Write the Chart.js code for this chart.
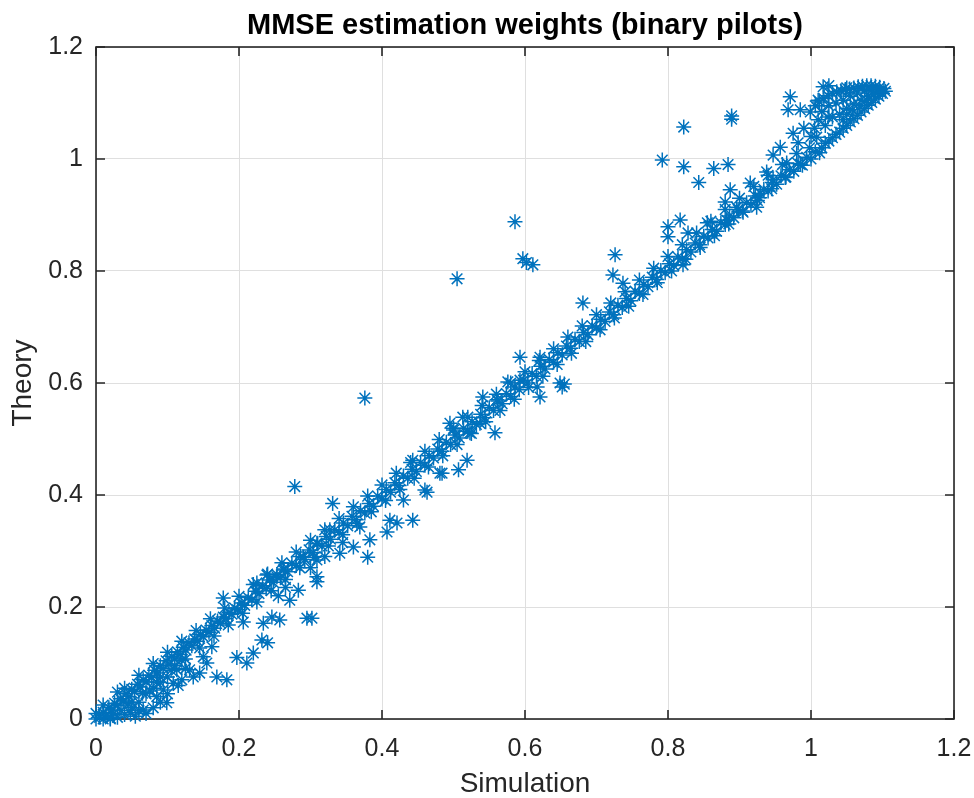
<!DOCTYPE html>
<html>
<head>
<meta charset="utf-8">
<title>MMSE estimation weights (binary pilots)</title>
<script src="https://cdn.jsdelivr.net/npm/chart.js@4/dist/chart.umd.min.js"></script>
<style>
  html, body { margin: 0; padding: 0; background: #ffffff; }
  canvas { display: block; }
</style>
</head>
<body>
<canvas id="mmse-chart" width="974" height="798"></canvas>
<script>
// ============================================
// DATA
// ============================================
const xTicks = [0, 0.2, 0.4, 0.6, 0.8, 1, 1.2];
const yTicks = [0, 0.2, 0.4, 0.6, 0.8, 1, 1.2];

// main diagonal band
const bandSim = [
  0.005, 0.010, 0.014, 0.018, 0.022, 0.026, 0.030, 0.034, 0.038, 0.042,
  0.046, 0.050, 0.054, 0.058, 0.062, 0.066, 0.070, 0.074, 0.078, 0.082,
  0.086, 0.090, 0.094, 0.098, 0.102, 0.106, 0.110, 0.114, 0.118, 0.122,
  0.126, 0.130, 0.134, 0.138, 0.142, 0.146, 0.150, 0.154, 0.158, 0.162,
  0.166, 0.170, 0.174, 0.178, 0.182, 0.186, 0.190, 0.194, 0.198, 0.203,
  0.208, 0.213, 0.218, 0.223, 0.228, 0.233, 0.238, 0.243, 0.248, 0.253,
  0.258, 0.263, 0.268, 0.274, 0.280, 0.286, 0.292, 0.298, 0.304, 0.310,
  0.316, 0.322, 0.328, 0.334, 0.340, 0.346, 0.352, 0.358, 0.364, 0.370,
  0.376, 0.382, 0.388, 0.394, 0.400, 0.406, 0.412, 0.418, 0.424, 0.430,
  0.436, 0.442, 0.448, 0.454, 0.460, 0.466, 0.472, 0.478, 0.484, 0.490,
  0.496, 0.502, 0.508, 0.514, 0.520, 0.526, 0.532, 0.538, 0.544, 0.550,
  0.556, 0.562, 0.568, 0.574, 0.580, 0.586, 0.592, 0.598, 0.604, 0.610,
  0.616, 0.622, 0.628, 0.634, 0.640, 0.646, 0.652, 0.658, 0.664, 0.670,
  0.676, 0.682, 0.688, 0.694, 0.700, 0.706, 0.712, 0.718, 0.724, 0.730,
  0.736, 0.742, 0.748, 0.754, 0.760, 0.766, 0.772, 0.778, 0.784, 0.790,
  0.796, 0.802, 0.808, 0.814, 0.820, 0.826, 0.832, 0.838, 0.844, 0.850,
  0.856, 0.862, 0.868, 0.874, 0.880, 0.886, 0.892, 0.898, 0.904, 0.910,
  0.916, 0.922, 0.928, 0.934, 0.940, 0.946, 0.952, 0.958, 0.964, 0.970,
  0.976, 0.982, 0.988, 0.994, 1.000, 1.006, 1.012
];
const bandTheory = [
  0.003, 0.012, 0.006, 0.020, 0.016, 0.028, 0.024, 0.036, 0.032, 0.045,
  0.040, 0.053, 0.049, 0.062, 0.057, 0.070, 0.066, 0.078, 0.074, 0.087,
  0.082, 0.095, 0.090, 0.104, 0.098, 0.112, 0.107, 0.120, 0.115, 0.128,
  0.123, 0.136, 0.131, 0.143, 0.139, 0.151, 0.147, 0.159, 0.155, 0.167,
  0.162, 0.175, 0.171, 0.182, 0.179, 0.190, 0.187, 0.198, 0.195, 0.207,
  0.203, 0.217, 0.213, 0.228, 0.224, 0.238, 0.233, 0.248, 0.244, 0.258,
  0.253, 0.268, 0.263, 0.278, 0.274, 0.290, 0.285, 0.302, 0.297, 0.313,
  0.309, 0.326, 0.321, 0.338, 0.333, 0.350, 0.345, 0.362, 0.356, 0.372,
  0.368, 0.385, 0.380, 0.398, 0.393, 0.410, 0.405, 0.422, 0.417, 0.434,
  0.430, 0.446, 0.442, 0.458, 0.453, 0.470, 0.466, 0.482, 0.478, 0.494,
  0.490, 0.507, 0.502, 0.519, 0.514, 0.531, 0.526, 0.544, 0.538, 0.556,
  0.551, 0.568, 0.563, 0.581, 0.576, 0.593, 0.588, 0.605, 0.600, 0.617,
  0.612, 0.630, 0.625, 0.642, 0.637, 0.654, 0.650, 0.666, 0.662, 0.678,
  0.674, 0.690, 0.686, 0.702, 0.698, 0.714, 0.710, 0.727, 0.722, 0.739,
  0.735, 0.751, 0.747, 0.764, 0.760, 0.776, 0.772, 0.789, 0.785, 0.801,
  0.797, 0.813, 0.810, 0.825, 0.822, 0.838, 0.834, 0.850, 0.847, 0.862,
  0.859, 0.874, 0.871, 0.886, 0.883, 0.898, 0.895, 0.910, 0.907, 0.922,
  0.919, 0.934, 0.931, 0.946, 0.943, 0.958, 0.955, 0.970, 0.967, 0.981,
  0.978, 0.992, 0.989, 1.003, 1.000, 1.013, 1.011
];

// upper edge of the band
const bandUpperSim = [
  0.030, 0.060, 0.080, 0.100, 0.120, 0.140, 0.160, 0.180, 0.200, 0.220,
  0.240, 0.260, 0.280, 0.300, 0.320, 0.340, 0.360, 0.380, 0.400, 0.420,
  0.440, 0.460, 0.480, 0.500, 0.520, 0.540, 0.560, 0.580, 0.600, 0.620,
  0.640, 0.660, 0.680, 0.700, 0.720, 0.740, 0.760, 0.780, 0.800, 0.820,
  0.840, 0.860, 0.880, 0.900, 0.920, 0.940, 0.960, 0.980
];
const bandUpperTheory = [
  0.048, 0.078, 0.099, 0.119, 0.139, 0.158, 0.179, 0.198, 0.219, 0.240,
  0.259, 0.279, 0.298, 0.319, 0.338, 0.358, 0.379, 0.398, 0.418, 0.439,
  0.458, 0.478, 0.499, 0.519, 0.539, 0.560, 0.580, 0.600, 0.620, 0.640,
  0.661, 0.682, 0.702, 0.722, 0.743, 0.763, 0.784, 0.805, 0.826, 0.847,
  0.868, 0.889, 0.910, 0.930, 0.951, 0.971, 0.990, 1.010
];

// lower edge of the band
const bandLowerSim = [
  0.045, 0.065, 0.085, 0.105, 0.125, 0.145, 0.165, 0.185, 0.205, 0.225,
  0.245, 0.265, 0.285, 0.305, 0.325, 0.345, 0.365, 0.385, 0.405, 0.425,
  0.445, 0.465, 0.485, 0.505, 0.525, 0.545, 0.565, 0.585, 0.605, 0.625,
  0.645, 0.665, 0.685, 0.705, 0.725, 0.745, 0.765, 0.785, 0.805, 0.825,
  0.845, 0.865, 0.885, 0.905, 0.925, 0.945, 0.965, 0.985
];
const bandLowerTheory = [
  0.027, 0.046, 0.066, 0.087, 0.107, 0.127, 0.148, 0.168, 0.189, 0.209,
  0.229, 0.249, 0.270, 0.289, 0.309, 0.329, 0.349, 0.370, 0.390, 0.410,
  0.430, 0.450, 0.470, 0.490, 0.510, 0.531, 0.551, 0.571, 0.592, 0.612,
  0.633, 0.653, 0.674, 0.695, 0.716, 0.737, 0.758, 0.779, 0.800, 0.821,
  0.842, 0.863, 0.884, 0.905, 0.926, 0.947, 0.968, 0.990
];

// saturated cluster near (1.05, 1.1)
const satSim = [
  1.015, 1.020, 1.025, 1.030, 1.035, 1.040, 1.045, 1.050, 1.055, 1.060,
  1.065, 1.070, 1.075, 1.080, 1.085, 1.090, 1.095, 1.100, 1.104, 1.102,
  1.096, 1.090, 1.084, 1.078, 1.072, 1.066, 1.060, 1.054, 1.048, 1.042,
  1.036, 1.030, 1.024, 1.018, 1.012, 1.006, 1.010, 1.015, 1.020, 1.025,
  1.030, 1.035, 1.040, 1.045, 1.050, 1.055, 1.060, 1.065, 1.070, 1.075,
  1.080, 1.085, 1.090, 1.095, 1.045, 1.050, 1.058, 1.068, 1.078, 1.088,
  1.000, 1.005, 0.998
];
const satTheory = [
  1.020, 1.028, 1.032, 1.038, 1.044, 1.048, 1.055, 1.060, 1.066, 1.072,
  1.078, 1.084, 1.090, 1.096, 1.101, 1.107, 1.112, 1.117, 1.121, 1.126,
  1.128, 1.130, 1.131, 1.131, 1.130, 1.129, 1.127, 1.125, 1.124, 1.122,
  1.120, 1.117, 1.113, 1.108, 1.102, 1.095, 1.070, 1.085, 1.060, 1.095,
  1.075, 1.100, 1.080, 1.105, 1.090, 1.112, 1.098, 1.118, 1.105, 1.122,
  1.112, 1.124, 1.118, 1.121, 1.070, 1.080, 1.088, 1.095, 1.105, 1.115,
  1.040, 1.055, 1.020
];

// points just above the band (upper right)
const upperSim = [
  0.800, 0.817, 0.800, 0.828, 0.821, 0.855, 0.882, 0.887, 0.880, 0.896,
  0.915, 0.929, 0.924, 0.947, 0.957, 0.947, 0.938, 0.966, 0.982, 1.008,
  0.975, 0.990, 0.971, 0.968, 0.985, 0.999, 1.010, 1.024, 1.017, 1.025,
  1.050
];
const upperTheory = [
  0.879, 0.891, 0.861, 0.868, 0.811, 0.886, 0.891, 0.945, 0.923, 0.914,
  0.957, 0.939, 0.914, 0.963, 1.021, 1.007, 0.977, 0.993, 1.029, 1.039,
  1.046, 1.055, 1.111, 1.088, 1.088, 1.084, 1.105, 1.075, 1.129, 1.131,
  1.127
];

// isolated outliers
const outlierSim = [
  0.586, 0.505, 0.597, 0.611, 0.602, 0.376, 0.278, 0.792, 0.822, 0.822,
  0.843, 0.864, 0.884, 0.889, 0.889, 0.726, 0.723, 0.737, 0.681, 0.178,
  0.331
];
const outlierTheory = [
  0.888, 0.786, 0.822, 0.811, 0.815, 0.573, 0.415, 0.998, 0.986, 1.057,
  0.958, 0.983, 0.990, 1.077, 1.071, 0.829, 0.793, 0.778, 0.743, 0.216,
  0.385
];

// scatter around the band (middle range)
const spreadSim = [
  0.593, 0.621, 0.593, 0.617, 0.621, 0.576, 0.558, 0.541, 0.519, 0.481,
  0.460, 0.443, 0.495, 0.513, 0.537, 0.649, 0.652, 0.655, 0.561, 0.523,
  0.500, 0.507, 0.484, 0.463, 0.430, 0.443, 0.411, 0.421, 0.407, 0.383,
  0.380, 0.360, 0.369, 0.341, 0.309, 0.300, 0.320, 0.345, 0.225, 0.253,
  0.290, 0.309, 0.327, 0.262, 0.239, 0.309, 0.255, 0.265
];
const spreadTheory = [
  0.646, 0.646, 0.605, 0.593, 0.575, 0.602, 0.511, 0.575, 0.462, 0.439,
  0.409, 0.462, 0.528, 0.539, 0.528, 0.600, 0.593, 0.598, 0.570, 0.511,
  0.516, 0.445, 0.439, 0.405, 0.391, 0.355, 0.355, 0.350, 0.334, 0.320,
  0.289, 0.307, 0.343, 0.296, 0.254, 0.270, 0.290, 0.315, 0.243, 0.254,
  0.289, 0.284, 0.338, 0.266, 0.257, 0.314, 0.220, 0.235
];

// lower branch (small weights)
const lowSim = [
  0.090, 0.108, 0.136, 0.155, 0.169, 0.183, 0.197, 0.211, 0.220, 0.232,
  0.240, 0.206, 0.234, 0.257, 0.295, 0.302, 0.309, 0.283, 0.271, 0.246,
  0.162, 0.150, 0.131, 0.145, 0.113, 0.094, 0.099, 0.066, 0.048, 0.040,
  0.050, 0.060, 0.070, 0.080, 0.090, 0.100, 0.110, 0.120, 0.125, 0.000,
  0.010, 0.020, 0.030, 0.025, 0.035, 0.055, 0.070, 0.080, 0.085, 0.100,
  0.115, 0.120, 0.000, 0.010, 0.020, 0.040, 0.050, 0.060, 0.075, 0.090
];
const lowTheory = [
  0.030, 0.064, 0.075, 0.100, 0.075, 0.070, 0.110, 0.100, 0.118, 0.141,
  0.136, 0.173, 0.171, 0.177, 0.180, 0.180, 0.245, 0.230, 0.212, 0.182,
  0.129, 0.111, 0.088, 0.082, 0.088, 0.052, 0.029, 0.016, 0.011, 0.008,
  0.020, 0.030, 0.045, 0.055, 0.065, 0.075, 0.095, 0.105, 0.090, 0.000,
  0.000, 0.002, 0.003, 0.010, 0.015, 0.005, 0.010, 0.020, 0.040, 0.045,
  0.060, 0.070, 0.010, 0.025, 0.000, 0.055, 0.030, 0.015, 0.050, 0.075
];

// ============================================
// HELPERS
// ============================================
const FONT = "Arial, 'Liberation Sans', Helvetica, sans-serif";
const AXIS_COLOR = '#262626';
const TICK_LEN = 9;

function toPoints(xs, ys) {
  return xs.map((x, i) => ({ x: x, y: ys[i] }));
}

const points = [].concat(
  toPoints(bandSim, bandTheory),
  toPoints(bandUpperSim, bandUpperTheory),
  toPoints(bandLowerSim, bandLowerTheory),
  toPoints(satSim, satTheory),
  toPoints(upperSim, upperTheory),
  toPoints(outlierSim, outlierTheory),
  toPoints(spreadSim, spreadTheory),
  toPoints(lowSim, lowTheory)
);

// MATLAB-like box with inward ticks on all four sides
const matlabBox = {
  id: 'matlabBox',
  afterLayout(chart) {
    // centre the title over the plot area, like MATLAB does
    const a = chart.chartArea;
    if (chart.titleBlock) {
      chart.titleBlock.left = a.left;
      chart.titleBlock.right = a.right;
    }
  },
  beforeDatasetsDraw(chart) {
    const { ctx, chartArea: a, scales } = chart;
    ctx.save();
    ctx.strokeStyle = AXIS_COLOR;
    ctx.lineWidth = 1.6;
    ctx.beginPath();
    xTicks.forEach(v => {
      const px = scales.x.getPixelForValue(v);
      ctx.moveTo(px, a.bottom); ctx.lineTo(px, a.bottom - TICK_LEN);
      ctx.moveTo(px, a.top); ctx.lineTo(px, a.top + TICK_LEN);
    });
    yTicks.forEach(v => {
      const py = scales.y.getPixelForValue(v);
      ctx.moveTo(a.left, py); ctx.lineTo(a.left + TICK_LEN, py);
      ctx.moveTo(a.right, py); ctx.lineTo(a.right - TICK_LEN, py);
    });
    ctx.stroke();
    ctx.strokeRect(a.left, a.top, a.right - a.left, a.bottom - a.top);
    ctx.restore();
  }
};

function tickLabel(value) {
  return Number(value.toFixed(1)).toString();
}

// ============================================
// CHART
// ============================================
new Chart(document.getElementById('mmse-chart'), {
  type: 'scatter',
  data: {
    datasets: [{
      label: 'weights',
      data: points,
      pointStyle: 'star',
      pointRadius: 7.5,
      pointHoverRadius: 7.5,
      borderColor: '#0072BD',
      backgroundColor: '#0072BD',
      borderWidth: 1.5,
      clip: false
    }]
  },
  options: {
    responsive: false,
    animation: false,
    devicePixelRatio: 1,
    layout: { padding: { left: 0, right: 0, top: 0, bottom: 0 } },
    plugins: {
      legend: { display: false },
      tooltip: { enabled: false },
      title: {
        display: true,
        text: 'MMSE estimation weights (binary pilots)',
        color: '#000000',
        font: { family: FONT, size: 29, weight: 'bold', lineHeight: 1.2 },
        padding: { top: 9, bottom: 3.2 }
      }
    },
    scales: {
      x: {
        type: 'linear',
        min: 0,
        max: 1.2,
        afterBuildTicks: s => { s.ticks = xTicks.map(v => ({ value: v })); },
        afterFit: s => {
          s.height = 79;
          s.paddingLeft = 0;
          s.paddingRight = 20;
        },
        ticks: {
          color: AXIS_COLOR,
          font: { family: FONT, size: 25 },
          padding: 15,
          maxRotation: 0,
          callback: tickLabel
        },
        grid: { color: '#dfdfdf', lineWidth: 1, drawTicks: false },
        border: { display: false },
        title: {
          display: true,
          text: 'Simulation',
          color: AXIS_COLOR,
          font: { family: FONT, size: 28, lineHeight: 1 },
          padding: { top: 0, bottom: 0 }
        }
      },
      y: {
        type: 'linear',
        min: 0,
        max: 1.2,
        afterBuildTicks: s => { s.ticks = yTicks.map(v => ({ value: v })); },
        afterFit: s => { s.width = 96; },
        ticks: {
          color: AXIS_COLOR,
          font: { family: FONT, size: 25 },
          padding: 13,
          callback: tickLabel
        },
        grid: { color: '#dfdfdf', lineWidth: 1, drawTicks: false },
        border: { display: false },
        title: {
          display: true,
          text: 'Theory',
          color: AXIS_COLOR,
          font: { family: FONT, size: 28, lineHeight: 1 },
          padding: { top: 9, bottom: 0 }
        }
      }
    }
  },
  plugins: [matlabBox]
});
</script>
</body>
</html>
